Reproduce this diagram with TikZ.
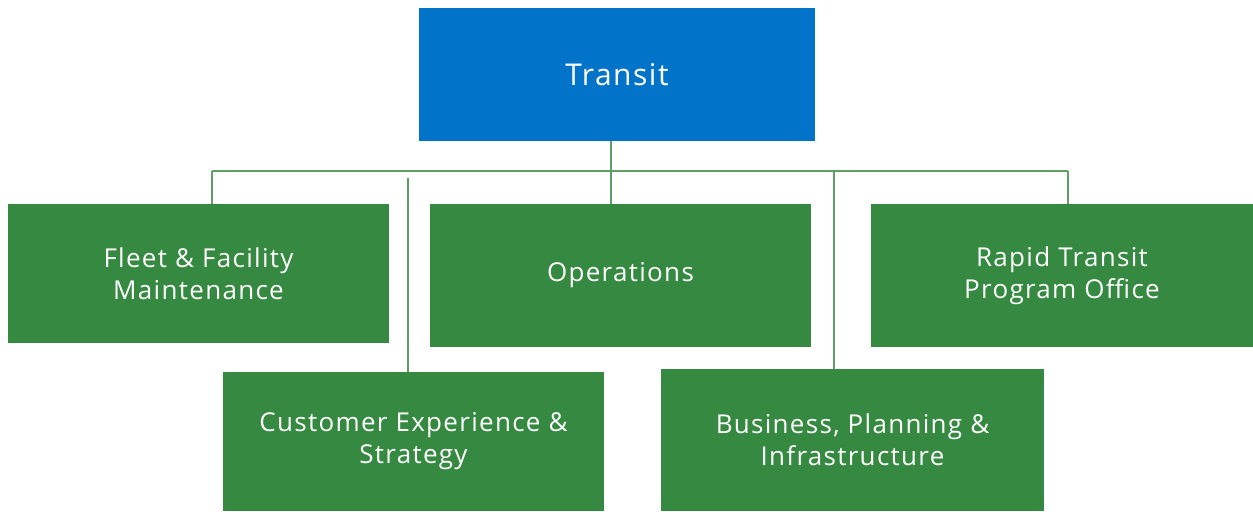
\documentclass[tikz,border=0pt]{standalone}
\usepackage{fontspec}
\setmainfont{Open Sans}[LetterSpace=5]
\usepackage{xcolor}
\usetikzlibrary{positioning,calc}

\definecolor{transitblue}{HTML}{0174C9}
\definecolor{unitgreen}{HTML}{358940}
\definecolor{linkgreen}{HTML}{5E9F67}

\begin{document}
\begin{tikzpicture}[
    x=0.5pt, y=-0.5pt,
    topbox/.style={fill=transitblue, text=white, minimum width=198pt, minimum height=66.5pt, font=\fontsize{15}{19}\selectfont, align=center, inner sep=0pt},
    unitbox/.style={fill=unitgreen, text=white, minimum width=190.5pt, minimum height=70pt, font=\fontsize{13}{16}\selectfont, align=center, inner sep=0pt},
    link/.style={draw=linkgreen, line width=1pt}
]
    \useasboundingbox (0,0) rectangle (1253,511);

    % Head
    \node[topbox] (transit) at (617,74.5) {Transit};

    % Units, upper row
    \node[unitbox, minimum height=69.5pt] (fleet) at (198.5,273.5) {Fleet \& Facility\\Maintenance};
    \node[unitbox, minimum height=71.5pt] (ops) at (620.5,275.5) {Operations};
    \node[unitbox, minimum width=191pt, minimum height=71.5pt] (rapid) at (1062,275.5) {Rapid Transit\\Program Office};

    % Units, lower row
    \node[unitbox, minimum height=69.5pt] (cust) at (413.5,441.5) {Customer Experience \&\\Strategy};
    \node[unitbox, minimum width=191.5pt, minimum height=71pt] (biz) at (852.5,440) {Business, Planning \&\\Infrastructure};

    % Bar
    \coordinate (barL) at (212,171);
    \coordinate (barR) at (1068,171);
    \coordinate (custTop) at (408,178);
    \coordinate (bizTop) at (834,171);
    \draw[link] (barL) -- (barR);

    % Connections
    \draw[link] ([xshift=-3pt]transit.south) -- ([xshift=-3pt]transit.south |- ops.north);
    \draw[link] (barL) -- (barL |- fleet.north);
    \draw[link] (barR) -- (barR |- rapid.north);
    \draw[link] (custTop) -- (custTop |- cust.north);
    \draw[link] (bizTop) -- (bizTop |- biz.north);

\end{tikzpicture}
\end{document}
